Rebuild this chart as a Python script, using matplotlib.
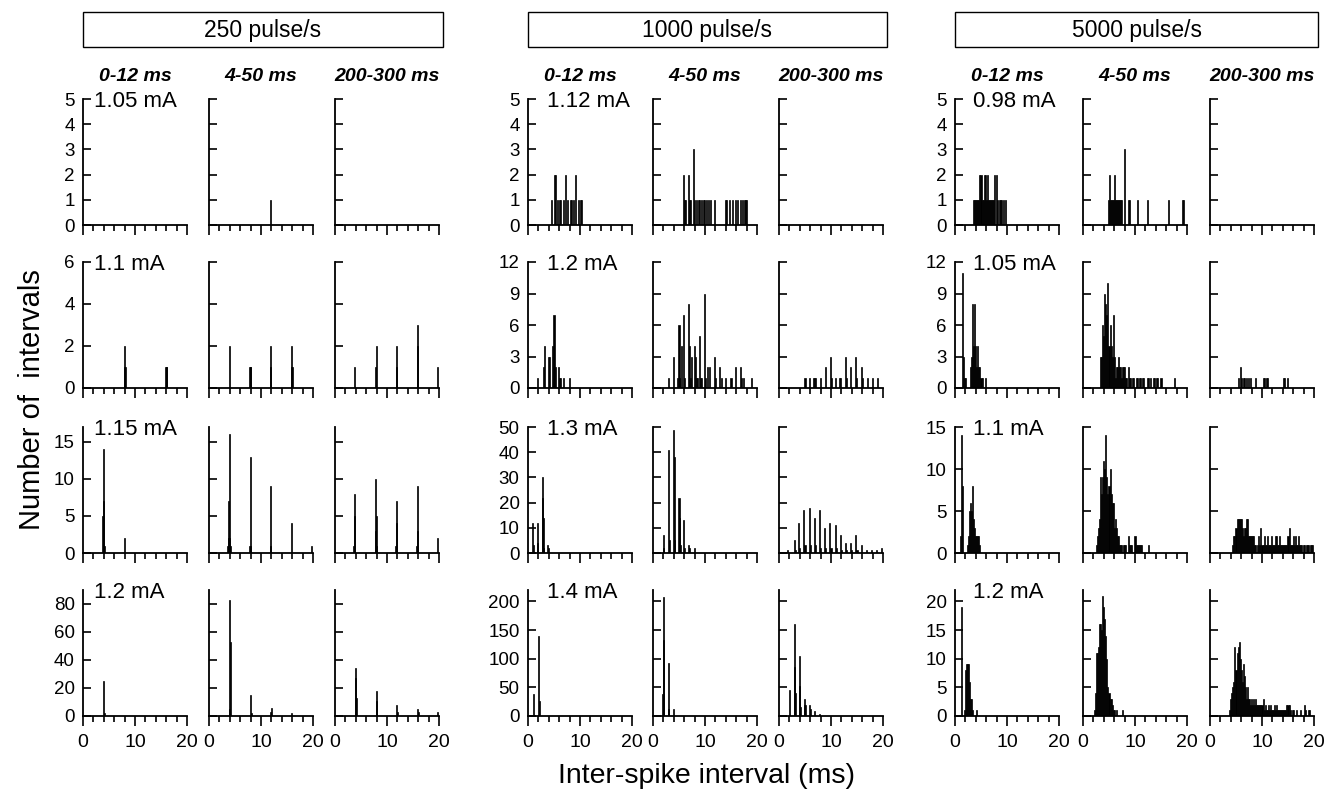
import matplotlib
matplotlib.use("Agg")
import matplotlib.pyplot as plt
from matplotlib.patches import Rectangle

plt.rcParams['font.family'] = ['Liberation Sans', 'DejaVu Sans']

rates = ['250 pulse/s', '1000 pulse/s', '5000 pulse/s']
windows = ['0-12 ms', '4-50 ms', '200-300 ms']
currents_250 = ['1.05 mA', '1.1 mA', '1.15 mA', '1.2 mA']
currents_1000 = ['1.12 mA', '1.2 mA', '1.3 mA', '1.4 mA']
currents_5000 = ['0.98 mA', '1.05 mA', '1.1 mA', '1.2 mA']

# ---- row 1 ----
x_r1_250_early, n_r1_250_early = [], []
x_r1_250_mid, n_r1_250_mid = [11.8], [1]
x_r1_250_late, n_r1_250_late = [], []
x_r1_1000_early = [4.5, 5.1, 5.3, 5.6, 6.1, 6.3, 6.9, 7.2, 7.6, 8.1, 8.3, 8.8, 9.2, 9.8, 10.1, 10.3]
n_r1_1000_early = [1, 2, 2, 1, 1, 1, 1, 2, 1, 1, 1, 1, 2, 1, 1, 1]
x_r1_1000_mid = [5.8, 6.0, 6.3, 6.8, 7.0, 7.2, 7.8, 8.0, 8.3, 8.8, 9.0, 9.4, 9.7, 9.9, 10.3,
                 10.7, 11.0, 11.9, 13.9, 14.1, 14.7, 15.2, 15.9, 16.2, 16.8, 17.2, 17.6, 17.8, 18.0]
n_r1_1000_mid = [2, 1, 1, 2, 1, 1, 3, 1, 1, 1, 1, 1, 1, 1, 1,
                 1, 1, 1, 1, 1, 1, 1, 1, 1, 1, 1, 1, 1, 1]
x_r1_1000_late, n_r1_1000_late = [], []
x_r1_5000_early = [3.6, 3.8, 4.0, 4.2, 4.4, 4.6, 4.8, 5.0, 5.2, 5.4, 5.6, 5.8, 6.0, 6.2, 6.4,
                   6.6, 6.8, 7.0, 7.2, 7.4, 7.6, 8.0, 8.2, 8.5, 8.7, 8.9, 9.3, 9.8]
n_r1_5000_early = [1, 1, 1, 1, 1, 1, 2, 2, 1, 1, 2, 2, 1, 2, 1,
                   1, 1, 1, 1, 1, 2, 2, 1, 1, 1, 1, 1, 1]
x_r1_5000_mid = [4.9, 5.1, 5.2, 5.4, 5.6, 5.8, 6.0, 6.2, 6.4, 6.6, 6.8, 7.0, 7.2, 7.4, 7.9,
                 8.7, 8.9, 10.5, 12.4, 16.5, 19.1, 19.4]
n_r1_5000_mid = [1, 2, 1, 1, 1, 1, 2, 1, 1, 1, 1, 1, 1, 1, 3,
                 1, 1, 1, 1, 1, 1, 1]
x_r1_5000_late, n_r1_5000_late = [], []

# ---- row 2 ----
x_r2_250_early = [7.9, 8.0, 8.1, 15.9, 16.0, 16.1]
n_r2_250_early = [1, 2, 1, 1, 1, 1]
x_r2_250_mid = [3.9, 7.8, 7.9, 8.0, 11.8, 11.9, 15.8, 15.9, 16.0]
n_r2_250_mid = [2, 1, 1, 1, 1, 2, 1, 2, 1]
x_r2_250_late = [3.8, 7.8, 7.9, 11.8, 11.9, 15.8, 15.9, 19.8]
n_r2_250_late = [1, 1, 2, 1, 2, 2, 3, 1]
x_r2_1000_early = [1.9, 2.9, 3.1, 4.0, 4.2, 4.8, 5.0, 5.2, 5.9, 6.1, 6.3, 6.9, 7.9]
n_r2_1000_early = [1, 2, 4, 3, 3, 4, 7, 2, 2, 1, 1, 1, 1]
x_r2_1000_mid = [3.0, 3.9, 4.8, 5.0, 5.1, 5.4, 5.9, 6.1, 6.8, 7.0, 7.2, 7.4, 7.9, 8.1, 8.3,
                 8.5, 8.9, 9.1, 9.3, 9.9, 10.1, 10.5, 10.9, 11.8, 12.0, 12.8, 13.1, 14.0,
                 15.0, 15.9, 16.9, 17.1, 17.4, 19.0]
n_r2_1000_mid = [1, 3, 1, 6, 1, 4, 7, 1, 8, 4, 1, 3, 4, 3, 1,
                 1, 5, 1, 1, 9, 1, 2, 2, 3, 1, 2, 1, 1,
                 1, 2, 2, 1, 1, 1]
x_r2_1000_late = [5.0, 5.9, 6.6, 6.8, 7.0, 7.9, 9.0, 9.9, 10.1, 10.8, 11.7, 11.9, 12.8, 13.0,
                  13.7, 14.7, 14.9, 15.9, 16.1, 17.0, 18.0, 19.0]
n_r2_1000_late = [1, 1, 1, 1, 1, 1, 2, 3, 1, 1, 1, 1, 3, 1,
                  2, 3, 1, 2, 1, 1, 1, 1]
x_r2_5000_early = [1.4, 1.6, 1.8, 2.0, 3.0, 3.2, 3.4, 3.6, 3.8, 4.0, 4.2, 4.4, 4.6, 4.8, 5.0, 5.2, 5.8]
n_r2_5000_early = [11, 3, 1, 1, 2, 3, 8, 4, 8, 4, 2, 4, 2, 2, 1, 1, 1]
x_r2_5000_mid = [3.4, 3.6, 3.8, 4.0, 4.2, 4.4, 4.6, 4.8, 5.0, 5.2, 5.4, 5.6, 5.8, 6.0, 6.2,
                 6.4, 6.6, 6.8, 7.0, 7.2, 7.4, 7.6, 7.8, 8.0, 8.2, 8.4, 8.8, 9.0, 9.2, 9.6,
                 9.8, 10.2, 10.4, 10.8, 11.0, 11.4, 11.6, 12.4, 12.6, 13.0, 13.6, 13.8, 14.2,
                 14.4, 15.0, 17.6]
n_r2_5000_mid = [3, 3, 6, 5, 9, 8, 7, 10, 4, 6, 4, 3, 7, 3, 1,
                 2, 2, 3, 2, 2, 1, 2, 2, 2, 1, 1, 2, 1, 1, 1,
                 1, 1, 1, 1, 1, 1, 1, 1, 1, 1, 1, 1, 1,
                 1, 1, 1]
x_r2_5000_late = [5.4, 5.8, 6.1, 6.4, 6.7, 7.1, 7.4, 7.8, 8.7, 10.2, 10.4, 10.8, 11.0, 14.1, 14.4, 14.9]
n_r2_5000_late = [1, 2, 1, 1, 1, 1, 1, 1, 1, 1, 1, 1, 1, 1, 1, 1]

# ---- row 3 ----
x_r3_250_early = [3.8, 3.9, 4.0, 4.1, 8.0]
n_r3_250_early = [5, 14, 7, 1, 2]
x_r3_250_mid = [3.6, 3.7, 3.8, 3.9, 4.0, 4.1, 7.8, 7.9, 8.0, 11.8, 11.9, 15.9, 19.8]
n_r3_250_mid = [1, 2, 7, 16, 2, 1, 1, 13, 1, 9, 1, 4, 1]
x_r3_250_late = [3.6, 3.7, 3.8, 7.7, 7.8, 7.9, 8.0, 11.7, 11.8, 11.9, 15.7, 15.8, 15.9, 19.7]
n_r3_250_late = [1, 8, 5, 3, 10, 5, 1, 1, 7, 4, 1, 9, 3, 2]
x_r3_1000_early = [0.9, 1.0, 1.8, 1.9, 2.7, 2.8, 2.9, 3.0, 3.8, 3.9]
n_r3_1000_early = [12, 3, 12, 4, 22, 30, 14, 2, 3, 2]
x_r3_1000_mid = [2.0, 2.1, 3.0, 3.1, 3.9, 4.1, 4.2, 5.0, 5.1, 5.2, 5.9, 6.0, 6.9, 7.0, 8.0]
n_r3_1000_mid = [7, 2, 41, 5, 49, 38, 5, 22, 14, 3, 13, 2, 3, 2, 2]
x_r3_1000_late = [1.7, 2.9, 3.1, 3.8, 4.0, 4.8, 5.0, 5.8, 6.0, 6.8, 7.0, 7.8, 8.0, 8.8, 9.0,
                  9.8, 10.0, 10.8, 11.0, 11.8, 12.0, 12.8, 13.0, 13.8, 14.0, 14.8, 15.0,
                  15.8, 16.8, 17.8, 18.7, 19.7]
n_r3_1000_late = [1, 5, 1, 12, 2, 17, 3, 18, 3, 14, 3, 17, 2, 10, 2,
                  12, 2, 11, 2, 7, 1, 4, 1, 4, 1, 7, 1,
                  3, 1, 1, 1, 2]
x_r3_5000_early = [1.0, 1.2, 1.4, 2.4, 2.6, 2.8, 3.0, 3.2, 3.4, 3.6, 3.8, 4.0, 4.2, 4.4, 4.6, 4.8]
n_r3_5000_early = [2, 14, 8, 1, 2, 5, 6, 5, 8, 4, 3, 2, 2, 2, 2, 1]
x_r3_5000_mid = [2.6, 2.8, 3.0, 3.2, 3.4, 3.6, 3.8, 4.0, 4.2, 4.4, 4.6, 4.8, 5.0, 5.2, 5.4,
                 5.6, 5.8, 6.0, 6.2, 6.4, 6.6, 6.8, 7.0, 7.2, 7.4, 7.8, 8.0, 8.2, 8.8, 9.0,
                 9.2, 9.4, 10.0, 10.2, 10.4, 10.6, 10.8, 11.0, 11.2, 12.6]
n_r3_5000_mid = [1, 2, 3, 4, 9, 7, 9, 11, 10, 14, 9, 7, 8, 10, 7,
                 6, 6, 3, 4, 3, 2, 2, 1, 1, 1, 1, 1, 1, 2, 1,
                 1, 1, 2, 1, 1, 1, 1, 1, 1, 1]
x_r3_5000_late = [4.4, 4.6, 4.8, 5.0, 5.2, 5.4, 5.6, 5.8, 6.0, 6.2, 6.4, 6.6, 6.8, 7.0, 7.2,
                  7.4, 7.6, 7.8, 8.0, 8.2, 8.4, 8.6, 8.8, 9.2, 9.4, 9.6, 9.8, 10.0, 10.2,
                  10.4, 10.6, 10.8, 11.0, 11.2, 11.4, 11.6, 11.8, 12.0, 12.2, 12.4, 12.6,
                  12.8, 13.0, 13.2, 13.4, 13.6, 13.8, 14.0, 14.2, 14.4, 14.6, 14.8, 15.0,
                  15.2, 15.4, 15.6, 15.8, 16.0, 16.2, 16.4, 16.6, 16.8, 17.0, 17.2, 17.4,
                  17.6, 18.0, 18.2, 18.6, 18.8, 19.0, 19.4, 19.6, 19.8]
n_r3_5000_late = [1, 2, 2, 3, 4, 4, 4, 4, 4, 3, 2, 3, 3, 4, 4,
                  2, 2, 2, 2, 2, 2, 1, 1, 1, 2, 1, 3, 1, 1,
                  2, 1, 1, 2, 1, 1, 1, 2, 1, 1, 1, 2,
                  2, 1, 1, 2, 1, 1, 1, 1, 1, 1, 1, 2,
                  3, 1, 1, 1, 2, 1, 2, 1, 1, 2, 1, 1,
                  1, 1, 1, 1, 1, 1, 1, 1, 1]

# ---- row 4 ----
x_r4_250_early = [4.0, 4.1]
n_r4_250_early = [25, 2]
x_r4_250_mid = [3.9, 4.0, 4.1, 8.0, 8.1, 11.9, 12.0, 15.9]
n_r4_250_mid = [5, 83, 53, 15, 2, 3, 6, 2]
x_r4_250_late = [3.9, 4.0, 4.2, 7.9, 8.0, 11.9, 12.0, 15.9, 16.0, 19.8]
n_r4_250_late = [34, 27, 13, 18, 11, 8, 3, 5, 3, 3]
x_r4_1000_early = [1.0, 2.0, 2.2]
n_r4_1000_early = [38, 140, 27]
x_r4_1000_mid = [1.8, 2.0, 2.1, 2.9, 3.0, 3.9]
n_r4_1000_mid = [38, 208, 133, 93, 12, 12]
x_r4_1000_late = [2.0, 2.9, 3.0, 3.1, 3.9, 4.0, 4.1, 4.9, 5.0, 5.9, 6.0, 6.9, 7.8]
n_r4_1000_late = [45, 85, 160, 40, 105, 52, 15, 30, 20, 20, 12, 8, 3]
x_r4_5000_early = [1.2, 1.8, 2.0, 2.2, 2.4, 2.6, 2.8, 3.0, 3.2, 3.4, 4.2]
n_r4_5000_early = [19, 1, 8, 9, 9, 9, 6, 3, 3, 1, 1]
x_r4_5000_mid = [2.2, 2.4, 2.6, 2.8, 3.0, 3.2, 3.4, 3.6, 3.8, 4.0, 4.2, 4.4, 4.6, 4.8, 5.0,
                 5.2, 5.4, 5.6, 5.8, 6.0, 6.4, 7.6]
n_r4_5000_mid = [1, 4, 11, 11, 12, 16, 16, 15, 21, 19, 17, 14, 10, 5, 4,
                 3, 3, 2, 1, 1, 1, 1]
x_r4_5000_late = [3.8, 4.0, 4.2, 4.4, 4.6, 4.8, 5.0, 5.2, 5.4, 5.6, 5.8, 6.0, 6.2, 6.4, 6.6,
                  6.8, 7.0, 7.2, 7.4, 7.6, 7.8, 8.0, 8.2, 8.4, 8.6, 8.8, 9.0, 9.2, 9.4, 9.6,
                  9.8, 10.0, 10.2, 10.4, 10.6, 10.8, 11.0, 11.2, 11.4, 11.6, 11.8, 12.0,
                  12.2, 12.4, 12.6, 12.8, 13.0, 13.2, 13.4, 13.6, 13.8, 14.0, 14.2, 14.4,
                  14.6, 14.8, 15.0, 15.2, 15.4, 15.8, 16.0, 16.6, 17.4, 18.2, 18.4, 19.0, 19.2]
n_r4_5000_late = [1, 3, 4, 5, 6, 12, 8, 11, 12, 13, 10, 8, 6, 9, 7,
                  5, 3, 5, 3, 3, 2, 3, 2, 3, 2, 3, 2, 2, 2, 2,
                  2, 2, 3, 1, 2, 1, 1, 2, 1, 2, 1, 1,
                  1, 2, 1, 2, 1, 1, 1, 1, 1, 1, 1, 1,
                  1, 2, 2, 2, 1, 1, 1, 1, 1, 2, 1, 1, 1]

panels = [
    [(x_r1_250_early, n_r1_250_early), (x_r1_250_mid, n_r1_250_mid), (x_r1_250_late, n_r1_250_late),
     (x_r1_1000_early, n_r1_1000_early), (x_r1_1000_mid, n_r1_1000_mid), (x_r1_1000_late, n_r1_1000_late),
     (x_r1_5000_early, n_r1_5000_early), (x_r1_5000_mid, n_r1_5000_mid), (x_r1_5000_late, n_r1_5000_late)],
    [(x_r2_250_early, n_r2_250_early), (x_r2_250_mid, n_r2_250_mid), (x_r2_250_late, n_r2_250_late),
     (x_r2_1000_early, n_r2_1000_early), (x_r2_1000_mid, n_r2_1000_mid), (x_r2_1000_late, n_r2_1000_late),
     (x_r2_5000_early, n_r2_5000_early), (x_r2_5000_mid, n_r2_5000_mid), (x_r2_5000_late, n_r2_5000_late)],
    [(x_r3_250_early, n_r3_250_early), (x_r3_250_mid, n_r3_250_mid), (x_r3_250_late, n_r3_250_late),
     (x_r3_1000_early, n_r3_1000_early), (x_r3_1000_mid, n_r3_1000_mid), (x_r3_1000_late, n_r3_1000_late),
     (x_r3_5000_early, n_r3_5000_early), (x_r3_5000_mid, n_r3_5000_mid), (x_r3_5000_late, n_r3_5000_late)],
    [(x_r4_250_early, n_r4_250_early), (x_r4_250_mid, n_r4_250_mid), (x_r4_250_late, n_r4_250_late),
     (x_r4_1000_early, n_r4_1000_early), (x_r4_1000_mid, n_r4_1000_mid), (x_r4_1000_late, n_r4_1000_late),
     (x_r4_5000_early, n_r4_5000_early), (x_r4_5000_mid, n_r4_5000_mid), (x_r4_5000_late, n_r4_5000_late)],
]
currents = [currents_250, currents_1000, currents_5000]

# y limits and ticks per row / group
ylims = [[5, 5, 5], [6, 12, 12], [17, 50, 15], [90, 220, 22]]
yticks = [
    [[0, 1, 2, 3, 4, 5]] * 3,
    [[0, 2, 4, 6], [0, 3, 6, 9, 12], [0, 3, 6, 9, 12]],
    [[0, 5, 10, 15], [0, 10, 20, 30, 40, 50], [0, 5, 10, 15]],
    [[0, 20, 40, 60, 80], [0, 50, 100, 150, 200], [0, 5, 10, 15, 20]],
]

W, H = 1328, 795
fig = plt.figure(figsize=(W / 100, H / 100), dpi=100)

col_left = [83, 209, 335, 528, 653, 779, 955, 1083, 1210]
row_top = [99, 262, 427, 590]
aw, ah = 104, 126
label_dx = [0.11, 0.18, 0.17]

for r in range(4):
    for c in range(9):
        g = c // 3
        ax = fig.add_axes([col_left[c] / W, 1 - (row_top[r] + ah) / H, aw / W, ah / H])
        xs, ns = panels[r][c]
        if xs:
            ax.bar(xs, ns, width=0.2, color='k', edgecolor='k', linewidth=0.5)
        ax.set_xlim(0, 20)
        ax.set_ylim(0, ylims[r][g])
        for s in ['top', 'right']:
            ax.spines[s].set_visible(False)
        for s in ['left', 'bottom']:
            ax.spines[s].set_linewidth(1.3)
        ax.set_xticks([0, 10, 20])
        ax.set_xticks(range(0, 21, 2), minor=True)
        ax.tick_params(axis='x', which='major', direction='out', length=7, width=1.2,
                       labelsize=14, pad=6)
        ax.tick_params(axis='x', which='minor', direction='out', length=4, width=1.2)
        ax.set_yticks(yticks[r][g])
        ax.tick_params(axis='y', direction='in', length=6, width=1.2, labelsize=13.5, pad=6)
        if r < 3:
            ax.set_xticklabels([])
        if c % 3 != 0:
            ax.set_yticklabels([])
        else:
            ax.text(label_dx[g], 1.06, currents[g][r], transform=ax.transAxes,
                    fontsize=16, va='top', ha='left')
        if r == 0:
            ax.text(0.5, 1.18, windows[c % 3], transform=ax.transAxes, fontsize=14,
                    fontweight='bold', fontstyle='italic', ha='center', va='center')

# group title boxes
for g in range(3):
    x0 = col_left[3 * g]
    x1 = col_left[3 * g + 2] + aw + 4
    fig.patches.append(Rectangle((x0 / W, 1 - 47 / H), (x1 - x0) / W, 35 / H,
                                 transform=fig.transFigure, fill=False,
                                 edgecolor='k', linewidth=1.0))
    fig.text((x0 + x1) / 2 / W, 1 - 30 / H, rates[g], fontsize=16.5, ha='center', va='center')

fig.text(32 / W, 1 - 400 / H, 'Number of  intervals', rotation=90, fontsize=21,
         ha='center', va='center')
fig.text(707 / W, 1 - 776 / H, 'Inter-spike interval (ms)', fontsize=20.5,
         ha='center', va='center')

plt.savefig('out.png', dpi=100)
